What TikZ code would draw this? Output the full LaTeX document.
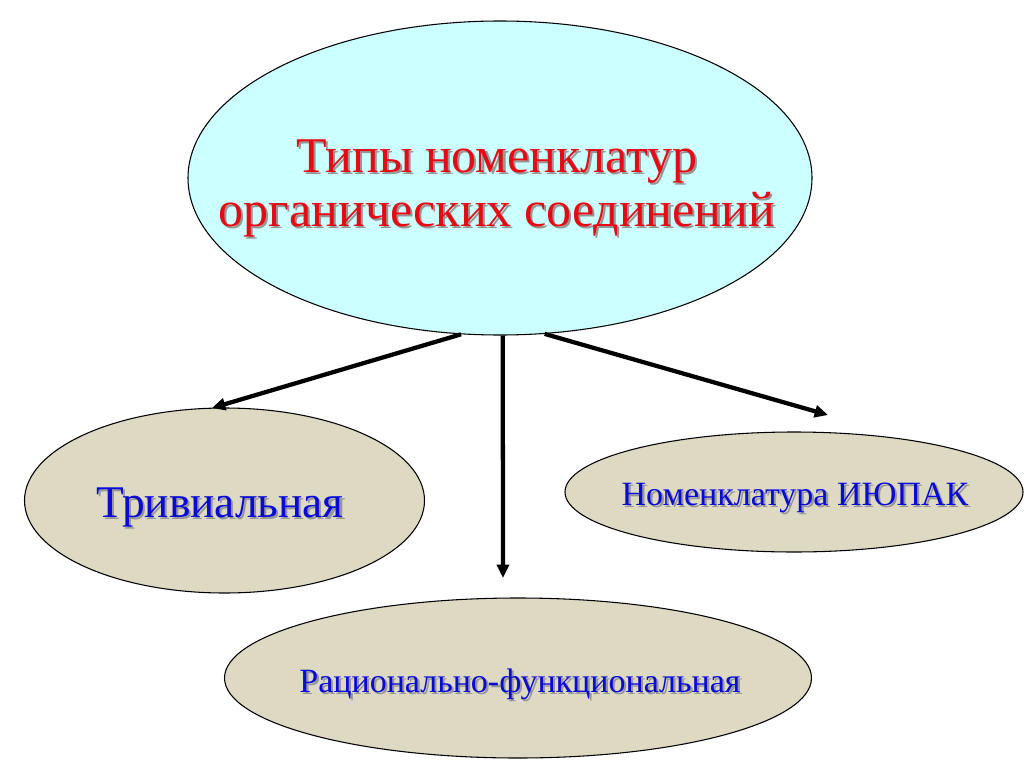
\documentclass[tikz,border=0pt]{standalone}
\usepackage{fontspec}
\setmainfont{Liberation Serif}
\usetikzlibrary{shapes.geometric,arrows.meta}
\definecolor{cyanfill}{RGB}{204,255,255}
\definecolor{tanfill}{RGB}{221,217,195}
\definecolor{titlered}{RGB}{230,10,20}
\definecolor{labelblue}{RGB}{10,10,215}
\definecolor{shadowgray}{RGB}{150,150,150}
\newcommand{\shtext}[1]{\makebox[0pt][l]{\hspace{1.6pt}\raisebox{-1.6pt}[0pt][0pt]{\textcolor{shadowgray}{#1}}}#1}
\begin{document}
\begin{tikzpicture}[x=0.75pt,y=-0.75pt,
  oval/.style={ellipse,draw=black,line width=0.8pt,inner sep=0pt},
  txt/.style={inner sep=0pt,align=center},
  conn/.style={line width=3.2pt,-{Triangle[length=10pt,width=9pt]}},
  titlefont/.style={font=\fontsize{37.5}{40.5}\selectfont},
  bigfont/.style={font=\fontsize{34}{38}\selectfont},
  smallfont/.style={font=\fontsize{25.5}{30}\selectfont}]
\useasboundingbox (0,0) rectangle (1024,767);
\fill[white] (0,0) rectangle (1024,767);
% ellipses
\node[oval,fill=cyanfill,minimum width=468pt,minimum height=235.5pt] (top) at (500,178) {};
\node[oval,fill=tanfill,minimum width=300pt,minimum height=138.75pt] (triv) at (224.5,500.5) {};
\node[oval,fill=tanfill,minimum width=343.5pt,minimum height=90pt] (iupac) at (794,492) {};
\node[oval,fill=tanfill,minimum width=440.25pt,minimum height=120pt] (rat) at (518,678) {};
% texts
\node[txt,titlefont,text=titlered] (topT) at (497,188) {\shtext{Типы номенклатур}\\\shtext{органических соединений}};
\node[txt,bigfont,text=labelblue,anchor=base] (trivT) at (220,517) {\shtext{Тривиальная}};
\node[txt,smallfont,text=labelblue,anchor=base] (iupacT) at (795,505) {\shtext{Номенклатура ИЮПАК}};
\node[txt,smallfont,text=labelblue,anchor=base] (ratT) at (520,692) {\shtext{Рационально-функциональная}};
% connectors
\coordinate (tipL) at (212,408);
\coordinate (tipM) at (503,578);
\coordinate (tipR) at (828,415);
\draw[conn] (top.256) -- (tipL);
\draw[conn] (top.271) -- (tipM);
\draw[conn] (top.286) -- (tipR);
\end{tikzpicture}
\end{document}
